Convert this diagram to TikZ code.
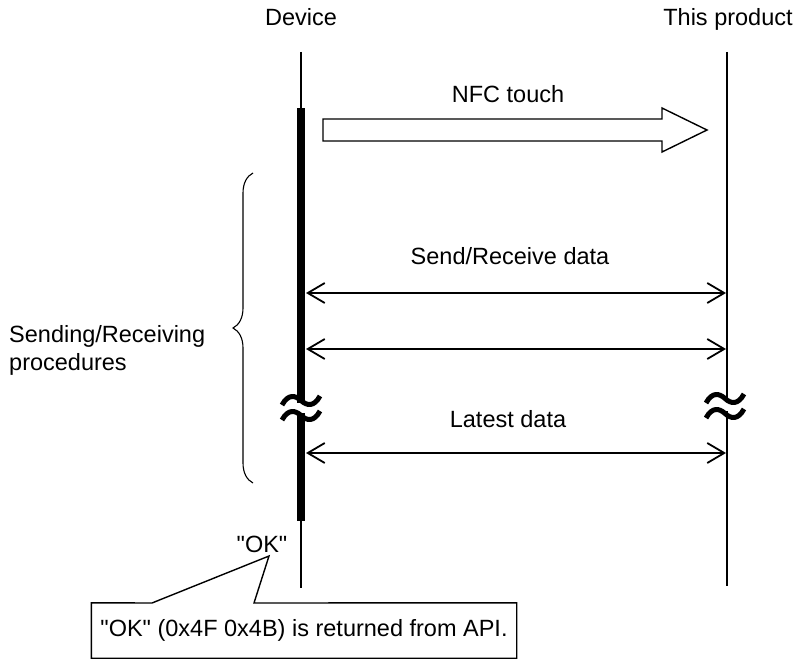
\documentclass[tikz,border=0pt]{standalone}
\usepackage{fontspec}
\setmainfont{Liberation Sans}[Ligatures=TeXOff]
\usetikzlibrary{arrows.meta,decorations.pathreplacing}
\begin{document}
\begin{tikzpicture}[x=1pt,y=-1pt,
  font=\fontsize{23.5}{28}\selectfont,
  lbl/.style={anchor=base, inner sep=0pt},
  life/.style={line width=2.5pt},
  act/.style={line width=8pt},
  msg/.style={line width=1.8pt, {Straight Barb[length=17pt,width=20pt]}-{Straight Barb[length=17pt,width=20pt]}},
  brk/.pic={
    \fill[white] (-7,-5) rectangle (7,5);
    \draw[line width=5pt] (-19,-3) .. controls (-13,-14) and (-6,-13) .. (0,-7.5) .. controls (6,-2) and (13,-1) .. (19,-12);
    \draw[line width=5pt] (-19,12) .. controls (-13,1) and (-6,2) .. (0,7.5) .. controls (6,13) and (13,14) .. (19,3);
  }]
\useasboundingbox (0,0) rectangle (795,661);

% headers
\node[lbl] (dev) at (301,26) {Device};
\node[lbl] (prod) at (728,26) {This product};

% lifelines
\coordinate (dtop) at (301,52);
\coordinate (dbot) at (301,588);
\coordinate (ptop) at (727,52);
\coordinate (pbot) at (727,586);
\coordinate (atop) at (301,108);
\coordinate (abot) at (301,521);
\draw[life] (dtop) -- (dbot);
\draw[life] (ptop) -- (pbot);
\draw[act] (atop) -- (abot);

% NFC touch block arrow
\node[lbl] (nfc) at (508,102) {NFC touch};
\draw[line width=1.4pt, fill=white] (323,119) -- (662,119) -- (662,108) -- (707,130) -- (662,152) -- (662,141) -- (323,141) -- cycle;

% messages
\node[lbl] (srd) at (510,264) {Send/Receive data};
\coordinate (m1l) at (306,293); \coordinate (m1r) at (726,293);
\coordinate (m2l) at (306,349); \coordinate (m2r) at (726,349);
\coordinate (m3l) at (306,453); \coordinate (m3r) at (726,453);
\draw[msg] (m1l) -- (m1r);
\draw[msg] (m2l) -- (m2r);
\node[lbl] (lat) at (508,427) {Latest data};
\draw[msg] (m3l) -- (m3r);

% break marks
\pic at (301,408) {brk};
\pic at (725,406) {brk};

% brace and its label
\coordinate (bbot) at (253,483);
\coordinate (btop) at (253,173);
\draw[line width=1.1pt, decorate, decoration={brace, amplitude=20pt}] (bbot) -- (btop);
\node[lbl, anchor=base west] (proc1) at (9,342) {Sending/Receiving};
\node[lbl, anchor=base west] (proc2) at (9,370) {procedures};

% OK label and callout
\node[lbl] (ok) at (262,552) {"OK"};
\node[inner sep=0pt, minimum width=425pt, minimum height=55pt] (note) at (304,630.5) {"OK" (0x4F 0x4B) is returned from API.};
\coordinate (pa) at (152,603);
\coordinate (pt) at (269,556);
\coordinate (pb) at (254,603);
\draw[line width=1.4pt] (note.north west) -- (pa) -- (pt) -- (pb) -- (note.north east) -- (note.south east) -- (note.south west) -- cycle;
\end{tikzpicture}
\end{document}
